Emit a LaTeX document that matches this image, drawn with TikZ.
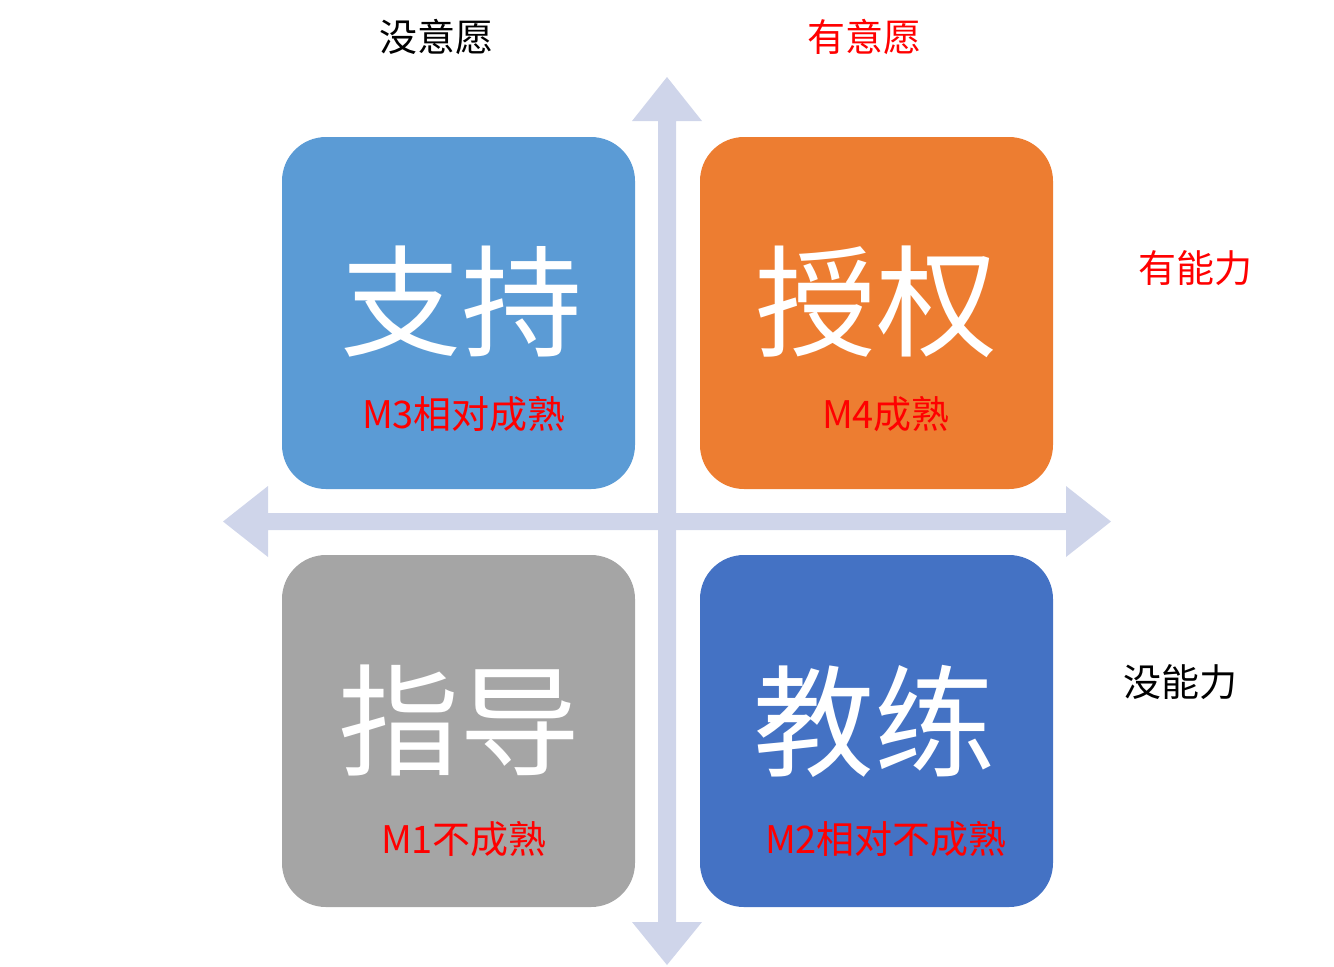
\documentclass[tikz,border=0pt]{standalone}
\usepackage{fontspec}
\setmainfont{Noto Sans CJK SC}
\definecolor{qblue}{HTML}{5B9BD5}
\definecolor{qorange}{HTML}{ED7D31}
\definecolor{qgrey}{HTML}{A5A5A5}
\definecolor{qdblue}{HTML}{4472C4}
\definecolor{qarrow}{HTML}{CFD5EA}
\definecolor{qred}{HTML}{FF0000}
\tikzset{
  quad/.style={rectangle, rounded corners=22pt, minimum width=176.5pt, minimum height=176pt, inner sep=0pt},
  bigtxt/.style={text=white, font=\fontsize{60.5}{60.5}\selectfont, inner sep=0pt},
  subtxt/.style={text=qred, font=\fontsize{19}{19}\selectfont, inner sep=0pt},
  axislbl/.style={font=\fontsize{19}{19}\selectfont, inner sep=0pt},
}
\begin{document}
\begin{tikzpicture}[x=0.5pt,y=-0.5pt]
\useasboundingbox (0,0) rectangle (1334,966);
% axes
\fill[qarrow] (667,77) -- (702,121) -- (676,121) -- (676,922) -- (702,922) -- (667,965) -- (632,922) -- (658,922) -- (658,121) -- (632,121) -- cycle;
\fill[qarrow] (223,521.5) -- (268,486) -- (268,513) -- (1066,513) -- (1066,486) -- (1111,521.5) -- (1066,557) -- (1066,530) -- (268,530) -- (268,557) -- cycle;
% quadrants
\node[quad, fill=qblue] (q3) at (458.5,313) {};
\node[quad, fill=qorange] (q4) at (876.5,313) {};
\node[quad, fill=qgrey] (q1) at (458.5,731) {};
\node[quad, fill=qdblue] (q2) at (876.5,731) {};
% big text
\node[bigtxt] (t3) at (461,302) {支持};
\node[bigtxt] (t4) at (876,302) {授权};
\node[bigtxt] (t1) at (459,721) {指导};
\node[bigtxt] (t2) at (874,721) {教练};
% sublabels
\node[subtxt] (s3) at (464,414) {M3相对成熟};
\node[subtxt] (s4) at (886,414) {M4成熟};
\node[subtxt] (s1) at (464,839) {M1不成熟};
\node[subtxt] (s2) at (886,839) {M2相对不成熟};
% axis labels
\node[axislbl] (nw) at (436,37) {没意愿};
\node[axislbl, text=qred] (yw) at (864,37) {有意愿};
\node[axislbl, text=qred] (yn) at (1195,268) {有能力};
\node[axislbl] (nn) at (1180,682) {没能力};
\end{tikzpicture}
\end{document}
